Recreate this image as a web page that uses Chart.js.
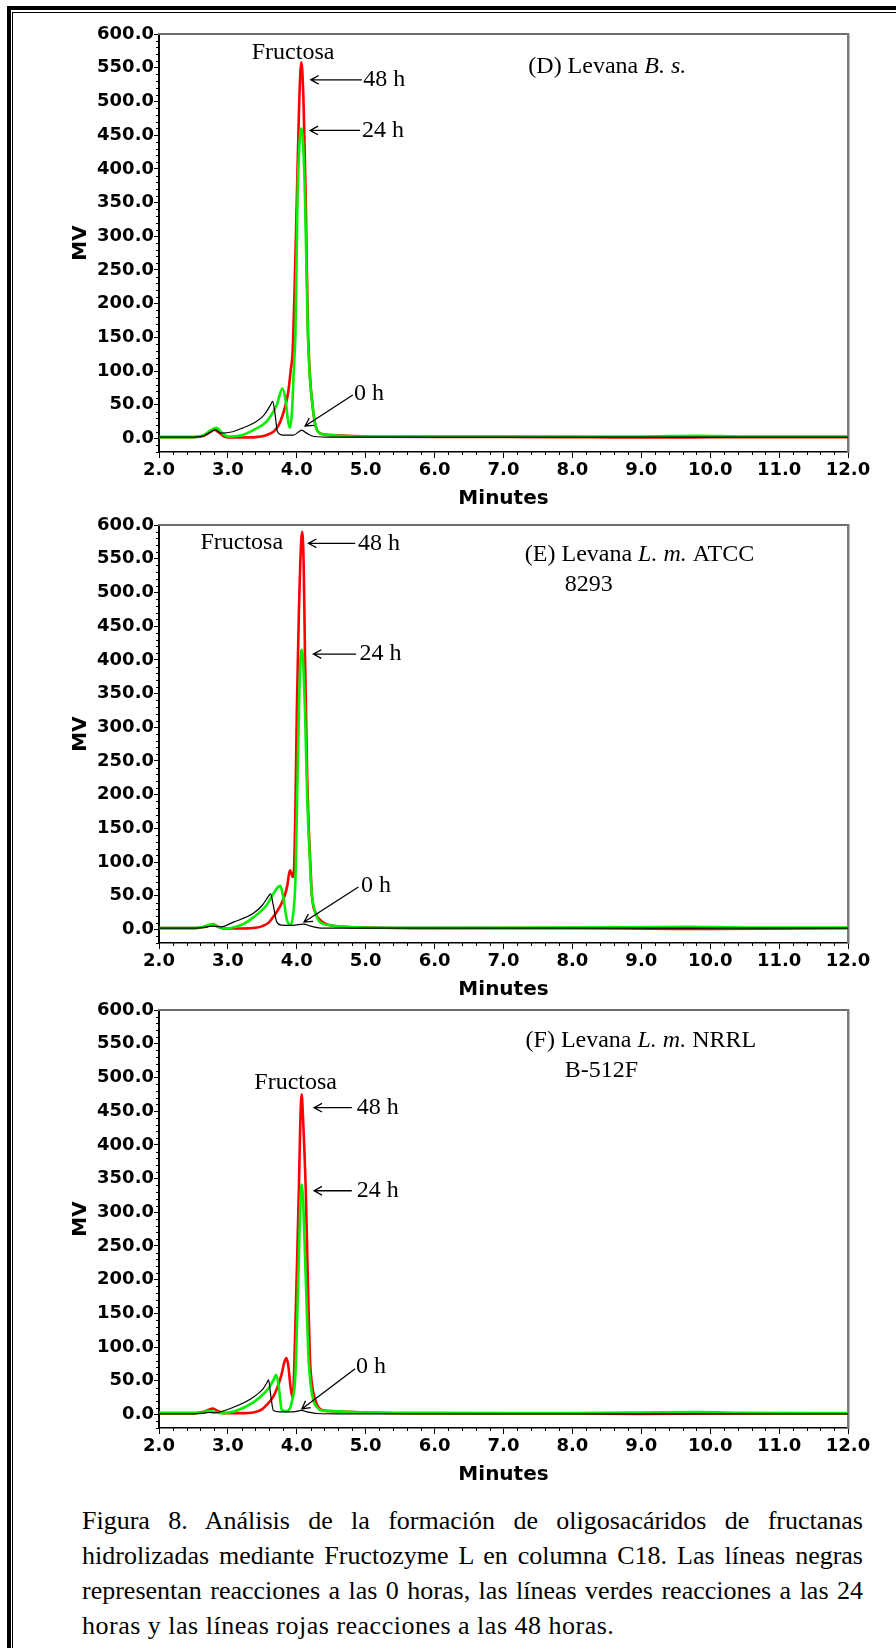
<!DOCTYPE html>
<html>
<head>
<meta charset="utf-8">
<script src="https://cdn.jsdelivr.net/npm/chart.js@4.4.1/dist/chart.umd.min.js"></script>
<style>
  html, body { margin: 0; padding: 0; background: #fff; }
  body { position: relative; width: 896px; height: 1648px; overflow: hidden; }
  canvas { position: absolute; left: 0; }
  .frame1 { position: absolute; left: 7px; top: 6px; width: 920px; height: 1680px;
            border-left: 4px solid #000; border-top: 4px solid #000; }
  .frame2 { position: absolute; left: 12px; top: 12px; width: 920px; height: 1680px;
            border-left: 1.5px solid #000; border-top: 1.5px solid #000; }
  #caption { position: absolute; left: 82px; top: 1503px; width: 781px;
             font-family: 'Liberation Serif', 'Times New Roman', serif; font-size: 26px; line-height: 35px; color: #000; }
  #caption div { text-align: justify; text-align-last: justify; }
  #caption div.last { text-align: left; text-align-last: left; letter-spacing: 0.5px; }
</style>
</head>
<body>
<div class="frame1"></div>
<div class="frame2"></div>
<canvas id="chartD" width="896" height="494" style="top:20px"></canvas>
<canvas id="chartE" width="896" height="494" style="top:511px"></canvas>
<canvas id="chartF" width="896" height="494" style="top:996px"></canvas>
<div id="caption">
  <div>Figura 8. Análisis de la formación de oligosacáridos de fructanas</div>
  <div>hidrolizadas mediante Fructozyme L en columna C18. Las líneas negras</div>
  <div>representan reacciones a las 0 horas, las líneas verdes reacciones a las 24</div>
  <div class="last">horas y las líneas rojas reacciones a las 48 horas.</div>
</div>
<script>
// axis ticks
const xTicks = [2, 3, 4, 5, 6, 7, 8, 9, 10, 11, 12];
const yTicks = [0, 50, 100, 150, 200, 250, 300, 350, 400, 450, 500, 550, 600];

// (D) Levana B. s.
const timeD0 = [2.0, 2.5, 2.65, 2.75, 2.82, 2.9, 3.07, 3.2, 3.37, 3.5, 3.56, 3.62, 3.65, 3.68, 3.72, 3.8, 3.95, 4.03, 4.07, 4.14, 4.25, 4.5, 6.0, 8.0, 10.0, 12.0];
const valD0  = [2, 2, 4, 10, 13, 8, 10, 15, 22.5, 32, 40, 50, 55, 40, 10, 5, 5, 10, 12.5, 8, 3, 2, 2, 2, 2, 2];
const timeD24 = [2.0, 2.5, 2.65, 2.75, 2.83, 2.92, 3.0, 3.2, 3.37, 3.56, 3.71, 3.79, 3.84, 3.87, 3.9, 3.93, 3.96, 3.98, 4.01, 4.04, 4.065, 4.09, 4.12, 4.16, 4.19, 4.22, 4.26, 4.31, 4.4, 4.5, 4.6, 5.0, 6.0, 8.0, 9.0, 9.8, 10.5, 12.0];
const valD24  = [2, 2, 5, 12, 16, 8, 3, 5, 12.6, 25, 50, 74, 55, 28, 16, 40, 110, 156, 354, 440, 460, 440, 354, 156, 90, 57, 25, 10, 6, 5, 4, 3, 3, 3, 3, 4, 3, 3];
const timeD48 = [2.0, 2.5, 2.65, 2.75, 2.8, 2.88, 2.97, 3.2, 3.4, 3.56, 3.66, 3.72, 3.76, 3.83, 3.88, 3.91, 3.94, 3.97, 4.0, 4.03, 4.05, 4.065, 4.08, 4.1, 4.13, 4.16, 4.19, 4.22, 4.26, 4.31, 4.4, 4.5, 5.0, 6.0, 7.0, 8.0, 8.6, 9.5, 10.0, 11.0, 12.0];
const valD48  = [2, 2, 4, 10, 13, 8, 2, 1.5, 2, 5, 10, 17, 25, 47, 72, 100, 130, 230, 354, 480, 540, 558, 545, 490, 354, 170, 95, 57, 25, 10, 6, 5, 3, 2.5, 2.5, 2, 1.5, 1.5, 2, 2, 2];

// (E) Levana L. m. ATCC 8293
const timeE0 = [2.0, 2.5, 2.7, 2.78, 2.9, 3.08, 3.37, 3.5, 3.58, 3.62, 3.66, 3.71, 3.78, 3.9, 4.05, 4.1, 4.2, 4.32, 4.5, 6.0, 8.0, 10.0, 12.0];
const valE0  = [2, 2, 4, 5, 4, 11, 24, 36, 48, 53, 35, 11, 6.5, 6, 7.5, 8, 5, 2.5, 2, 2, 2, 2, 2];
const timeE24 = [2.0, 2.5, 2.65, 2.77, 2.85, 2.95, 3.22, 3.37, 3.56, 3.66, 3.72, 3.76, 3.8, 3.86, 3.91, 3.95, 3.98, 4.0, 4.03, 4.05, 4.075, 4.1, 4.12, 4.15, 4.17, 4.2, 4.22, 4.27, 4.32, 4.4, 4.5, 5.0, 6.0, 8.0, 9.7, 10.5, 12.0];
const valE24  = [2, 2, 4, 8, 4, 1.5, 8, 18, 36, 53, 62, 65, 50, 13, 7, 25, 73, 170, 321, 395, 415, 380, 321, 200, 147, 80, 50, 25, 13, 8, 6, 3, 2.5, 3, 4, 3, 3];
const timeE48 = [2.0, 2.5, 2.68, 2.78, 2.86, 2.95, 3.2, 3.4, 3.5, 3.6, 3.66, 3.72, 3.78, 3.83, 3.86, 3.9, 3.925, 3.94, 3.96, 3.98, 4.0, 4.03, 4.05, 4.077, 4.1, 4.12, 4.15, 4.17, 4.2, 4.22, 4.27, 4.35, 4.5, 5.0, 6.0, 8.0, 9.5, 10.0, 12.0];
const valE48  = [2, 2, 4, 8, 4, 1.5, 1.5, 2.5, 5, 11, 19, 28, 39, 52, 64, 88, 82, 78, 90, 180, 321, 470, 543, 590, 540, 400, 230, 160, 90, 50, 25, 13, 6, 3, 2, 2, 1, 1, 2];

// (F) Levana L. m. NRRL B-512F
const timeF0 = [2.0, 2.5, 2.65, 2.72, 2.8, 3.08, 3.37, 3.51, 3.56, 3.59, 3.62, 3.66, 3.75, 3.95, 4.07, 4.15, 4.3, 4.6, 6.0, 8.0, 10.0, 12.0];
const valF0  = [1, 1, 2, 3, 2.5, 10.7, 25.6, 38, 46, 51.5, 30, 6, 4, 4, 6, 4, 1.5, 1, 1, 1, 1, 1];
const timeF24 = [2.0, 2.5, 2.62, 2.72, 2.8, 2.9, 3.1, 3.37, 3.56, 3.63, 3.67, 3.7, 3.74, 3.78, 3.84, 3.88, 3.93, 3.98, 4.01, 4.03, 4.05, 4.07, 4.09, 4.12, 4.15, 4.17, 4.2, 4.24, 4.3, 4.36, 4.5, 5.0, 6.0, 8.0, 9.8, 10.5, 12.0];
const valF24  = [2, 2, 3, 5.5, 4, 2, 5, 18, 35, 45, 53, 59, 40, 7.5, 5, 6, 20, 60, 160, 234, 310, 341, 320, 234, 140, 85, 45, 21, 10, 6, 5, 3, 2, 2, 3.5, 2.5, 2];
const timeF48 = [2.0, 2.5, 2.65, 2.78, 2.86, 2.95, 3.2, 3.37, 3.5, 3.56, 3.65, 3.71, 3.78, 3.82, 3.85, 3.88, 3.91, 3.94, 3.96, 3.98, 4.01, 4.03, 4.05, 4.07, 4.09, 4.13, 4.16, 4.19, 4.22, 4.27, 4.32, 4.4, 4.5, 5.0, 6.0, 8.0, 9.0, 10.0, 12.0];
const valF48  = [2, 2, 4, 8.9, 5, 2, 2, 3, 8, 14, 25, 38, 60, 78, 83.7, 70, 40, 25, 60, 135, 250, 333, 430, 475, 440, 333, 200, 85, 45, 21, 10, 6, 5, 3, 2, 1.5, 1, 1.5, 1.5];

const tickFont = { family: 'DejaVu Sans', size: 18, weight: 'bold' };
const titleFont = { family: 'DejaVu Sans', size: 20, weight: 'bold' };
const noteFont = "24px 'Liberation Serif'";
const noteFontItalic = "italic 24px 'Liberation Serif'";

// annotation texts and arrows, placed in data units (minutes, MV)
const notesD = [
  { text: [['Fructosa']], t: 3.946, v: 572, align: 'center' },
  { arrow: [4.944, 532, 4.203, 532] }, { text: [['48 h']], t: 4.963, v: 532 },
  { arrow: [4.919, 457, 4.193, 457] }, { text: [['24 h']], t: 4.948, v: 457 },
  { arrow: [4.813, 64.6, 4.12, 18.6] }, { text: [['0 h']], t: 4.832, v: 67 },
  { text: [['(D) Levana '], ['B. s.', true]], t: 7.36, v: 552 }
];
const notesE = [
  { text: [['Fructosa']], t: 3.201, v: 573.7, align: 'center' },
  { arrow: [4.847, 572.8, 4.169, 572.8] }, { text: [['48 h']], t: 4.89, v: 572.8 },
  { arrow: [4.861, 408.5, 4.241, 408.5] }, { text: [['24 h']], t: 4.909, v: 408.5 },
  { arrow: [4.894, 63.1, 4.105, 11.1] }, { text: [['0 h']], t: 4.93, v: 65.6 },
  { text: [['(E) Levana '], ['L. m.', true], [' ATCC']], t: 7.31, v: 555.4 },
  { text: [['8293']], t: 7.89, v: 510.9 }
];
const notesF = [
  { text: [['Fructosa']], t: 3.983, v: 492.3, align: 'center' },
  { arrow: [4.799, 455.1, 4.251, 455.1] }, { text: [['48 h']], t: 4.87, v: 455.1 },
  { arrow: [4.799, 331.9, 4.251, 331.9] }, { text: [['24 h']], t: 4.87, v: 331.9 },
  { arrow: [4.847, 67.9, 4.073, 8.3] }, { text: [['0 h']], t: 4.861, v: 71.3 },
  { text: [['(F) Levana '], ['L. m.', true], [' NRRL']], t: 7.32, v: 554.3 },
  { text: [['B-512F']], t: 7.89, v: 509.6 }
];

// small ticks between the labelled ones
const minorTicks = {
  id: 'minorTicks',
  afterDraw(chart) {
    const { ctx, scales: { x, y }, chartArea: a } = chart;
    ctx.save();
    ctx.strokeStyle = '#000';
    ctx.lineWidth = 1;
    ctx.beginPath();
    for (let i = 0; i <= 50; i++) {
      if (i % 5 === 0) continue;
      const px = Math.round(x.getPixelForValue(2 + i * 0.2)) + 0.5;
      ctx.moveTo(px, a.bottom);
      ctx.lineTo(px, a.bottom + 3);
    }
    for (let v = -20; v <= 600; v += 10) {
      if (v % 50 === 0) continue;
      const py = Math.round(y.getPixelForValue(v)) + 0.5;
      ctx.moveTo(a.left, py);
      ctx.lineTo(a.left - 3, py);
    }
    ctx.stroke();
    ctx.restore();
  }
};

function makeNotes(notes) {
  return {
    id: 'notes',
    afterDatasetsDraw(chart) {
      const { ctx, scales: { x, y } } = chart;
      ctx.save();
      ctx.fillStyle = '#000';
      ctx.strokeStyle = '#000';
      ctx.lineWidth = 1.3;
      ctx.textBaseline = 'middle';
      for (const n of notes) {
        if (n.arrow) {
          const [t1, v1, t2, v2] = n.arrow;
          const x1 = x.getPixelForValue(t1), y1 = y.getPixelForValue(v1);
          const x2 = x.getPixelForValue(t2), y2 = y.getPixelForValue(v2);
          const ang = Math.atan2(y2 - y1, x2 - x1);
          ctx.beginPath();
          ctx.moveTo(x1, y1);
          ctx.lineTo(x2, y2);
          ctx.moveTo(x2 - 9 * Math.cos(ang - 0.5), y2 - 9 * Math.sin(ang - 0.5));
          ctx.lineTo(x2, y2);
          ctx.lineTo(x2 - 9 * Math.cos(ang + 0.5), y2 - 9 * Math.sin(ang + 0.5));
          ctx.stroke();
        } else {
          let total = 0;
          for (const [s, it] of n.text) {
            ctx.font = it ? noteFontItalic : noteFont;
            total += ctx.measureText(s).width;
          }
          let px = x.getPixelForValue(n.t);
          if (n.align === 'center') px -= total / 2;
          const py = y.getPixelForValue(n.v);
          ctx.textAlign = 'left';
          for (const [s, it] of n.text) {
            ctx.font = it ? noteFontItalic : noteFont;
            ctx.fillText(s, px, py);
            px += ctx.measureText(s).width;
          }
        }
      }
      ctx.restore();
    }
  };
}

function buildChart(id, series, notes) {
  new Chart(document.getElementById(id), {
    type: 'line',
    data: {
      datasets: series.map(s => ({
        label: s.name,
        data: s.t.map((t, i) => ({ x: t, y: s.v[i] })),
        borderColor: s.color,
        borderWidth: s.width,
        pointRadius: 0,
        fill: false,
        cubicInterpolationMode: 'monotone',
        xAxisID: 'x',
        yAxisID: 'y',
      }))
    },
    options: {
      responsive: false,
      animation: false,
      layout: { padding: { top: 14, right: 48, left: 0, bottom: 0 } },
      plugins: { legend: { display: false }, tooltip: { enabled: false } },
      scales: {
        x: {
          type: 'linear',
          position: 'bottom',
          min: 2,
          max: 12,
          afterBuildTicks: axis => { axis.ticks = xTicks.map(v => ({ value: v })); },
          afterFit: axis => { axis.height = 62; },
          ticks: { callback: v => v.toFixed(1), font: tickFont, color: '#000', padding: 2, maxRotation: 0, autoSkip: false },
          grid: { drawOnChartArea: false, tickLength: 6, color: '#000' },
          border: { color: '#000', width: 1.5 },
          title: { display: true, text: 'Minutes', font: titleFont, color: '#000', padding: { top: 0, bottom: 3 } },
        },
        y: {
          type: 'linear',
          position: 'left',
          min: -20,
          max: 600,
          afterBuildTicks: axis => { axis.ticks = yTicks.map(v => ({ value: v })); },
          afterFit: axis => { axis.width = 159; },
          ticks: { callback: v => v.toFixed(1), font: tickFont, color: '#000', padding: 0, autoSkip: false },
          grid: { drawOnChartArea: false, tickLength: 5, color: '#000' },
          border: { color: '#000', width: 2 },
          title: { display: true, text: 'MV', font: titleFont, color: '#000', padding: { top: 69, bottom: 0 } },
        },
        xTop: {
          type: 'linear',
          position: 'top',
          ticks: { display: false },
          grid: { display: false },
          border: { color: '#6e6e6e', width: 2 },
          afterFit: axis => { axis.height = 0; },
        },
        yRight: {
          type: 'linear',
          position: 'right',
          ticks: { display: false },
          grid: { display: false },
          border: { color: '#7a7a7a', width: 2.5 },
          afterFit: axis => { axis.width = 0; },
        },
      },
    },
    plugins: [minorTicks, makeNotes(notes)],
  });
}

buildChart('chartD', [
  { name: '0 h', t: timeD0, v: valD0, color: '#000', width: 1.2 },
  { name: '24 h', t: timeD24, v: valD24, color: '#00f000', width: 2.6 },
  { name: '48 h', t: timeD48, v: valD48, color: '#ff0000', width: 2.6 },
], notesD);
buildChart('chartE', [
  { name: '0 h', t: timeE0, v: valE0, color: '#000', width: 1.2 },
  { name: '24 h', t: timeE24, v: valE24, color: '#00f000', width: 2.6 },
  { name: '48 h', t: timeE48, v: valE48, color: '#ff0000', width: 2.6 },
], notesE);
buildChart('chartF', [
  { name: '0 h', t: timeF0, v: valF0, color: '#000', width: 1.2 },
  { name: '24 h', t: timeF24, v: valF24, color: '#00f000', width: 2.6 },
  { name: '48 h', t: timeF48, v: valF48, color: '#ff0000', width: 2.6 },
], notesF);
</script>
</body>
</html>
